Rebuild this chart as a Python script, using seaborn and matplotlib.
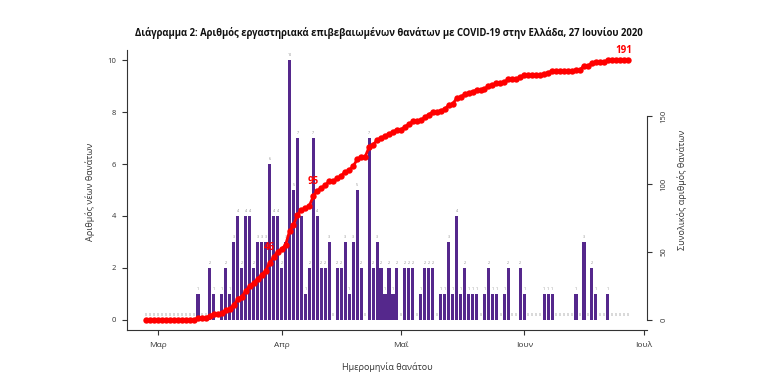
import numpy as np
import pandas as pd
import matplotlib
matplotlib.use("Agg")
import matplotlib.pyplot as plt
import matplotlib.dates as mdates
import seaborn as sns

# daily deaths by date of death, 27 Feb - 27 Jun 2020
dates = pd.date_range("2020-02-27", "2020-06-27", freq="D")
deaths = [0, 0, 0, 0, 0, 0, 0, 0, 0, 0, 0, 0, 0,
          1, 0, 0, 2, 1, 0, 1, 2, 1, 3,
          4, 2, 4, 4, 2, 3, 3, 3, 6, 4,
          4, 2, 3, 10, 5, 7, 4, 1, 2, 7,
          4, 2, 2, 3, 0, 2, 2, 3, 1, 3,
          5, 2, 0, 7, 2, 3, 2, 1, 2, 1,
          2, 0, 2, 2, 2, 0, 1, 2, 2, 2,
          0, 1, 1, 3, 1, 4, 1, 2, 1, 1,
          1, 0, 1, 2, 1, 1, 0, 1, 2, 0,
          0, 2, 1, 0, 0, 0, 0, 1, 1, 1,
          0, 0, 0, 0, 0, 1, 0, 3, 0, 2,
          1, 0, 0, 1, 0, 0, 0, 0, 0]

month_ticks = pd.to_datetime(["2020-03-01", "2020-04-01", "2020-05-01",
                              "2020-06-01", "2020-07-01"])
month_labels = ["Μαρ", "Απρ", "Μαΐ", "Ιουν", "Ιουλ"]
label_dates = pd.to_datetime(["2020-03-30", "2020-04-10", "2020-06-27"])

title = ("Διάγραμμα 2: Αριθμός εργαστηριακά επιβεβαιωμένων θανάτων "
         "με COVID-19 στην Ελλάδα, 27 Ιουνίου 2020")

df = pd.DataFrame({"date": dates, "deaths": deaths})
df["x"] = mdates.date2num(df["date"])
df["total"] = df["deaths"].cumsum()

sns.set_theme(style="white")
plt.rcParams["font.family"] = ["Open Sans", "DejaVu Sans"]

W, H = 759, 389
fig = plt.figure(figsize=(W / 100, H / 100), dpi=100)
ax = fig.add_axes([127 / W, 59 / H, 520 / W, 280 / H])

bar_col = "#55288c"
sns.barplot(data=df, x="x", y="deaths", native_scale=True, orient="x",
            color=bar_col, saturation=1, width=0.78, linewidth=0, ax=ax)

for _, r in df.iterrows():
    ax.text(r["x"], r["deaths"] + 0.12, str(int(r["deaths"])), fontsize=2.6,
            color="#8a8a8a", ha="center", va="bottom")

pad = (df["x"].max() - df["x"].min()) * 0.04
ax.set_xlim(df["x"].min() - pad, df["x"].max() + pad)
ax.set_ylim(-0.4, 10.4)
ax.set_yticks(range(0, 11, 2))
ax.set_xticks(mdates.date2num(month_ticks))
ax.set_xticklabels(month_labels)
ax.set_xlabel("")
ax.set_ylabel("")
ax.tick_params(axis="y", labelsize=5.5, length=3.6, width=0.8, pad=4.5,
               colors="#333333", left=True)
ax.tick_params(axis="x", labelsize=6, length=3.6, width=0.8, pad=5,
               colors="#333333", bottom=True)
for s in ["top", "right"]:
    ax.spines[s].set_visible(False)
for s in ["left", "bottom"]:
    ax.spines[s].set_color("#333333")
    ax.spines[s].set_linewidth(0.8)

# cumulative deaths on the right axis
ax2 = ax.twinx()
sns.lineplot(data=df, x="x", y="total", color="#ff0000", lw=2.0,
             marker="o", markersize=4.6, markeredgewidth=0, ax=ax2)
tpad = df["total"].max() * 0.04
ax2.set_ylim(-tpad, df["total"].max() + tpad)
ax2.set_yticks([0, 50, 100, 150])
ax2.set_ylabel("")
ax2.set_xlabel("")
for s in ["top", "left", "bottom"]:
    ax2.spines[s].set_visible(False)
ax2.spines["right"].set_bounds(0, 150)
ax2.spines["right"].set_color("#333333")
ax2.spines["right"].set_linewidth(0.8)
ax2.tick_params(axis="y", labelsize=5.5, length=3.6, width=0.8, pad=6,
                colors="#333333", right=True)
for lab in ax2.get_yticklabels():
    lab.set_rotation(90)
    lab.set_va("center")

for d in label_dates:
    row = df[df["date"] == d].iloc[0]
    ax2.annotate(str(int(row["total"])), (row["x"], row["total"]),
                 xytext=(-3, 3), textcoords="offset points", color="#ff0000",
                 fontsize=7, fontweight="bold", ha="center", va="bottom")

fig.text(389 / W, 1 - 33 / H, title, ha="center", va="center",
         fontsize=6.85, fontweight="bold", color="#111111")
fig.text(90 / W, 1 - 192 / H, "Αριθμός νέων θανάτων", rotation=90,
         ha="center", va="center", fontsize=6.5, color="#333333")
fig.text(682 / W, 1 - 190 / H, "Συνολικός αριθμός θανάτων", rotation=90,
         ha="center", va="center", fontsize=6.5, color="#333333")
fig.text(387 / W, 1 - 367 / H, "Ημερομηνία θανάτου", ha="center",
         va="center", fontsize=6.5, color="#333333")

fig.savefig("out.png", dpi=100, facecolor="white")
